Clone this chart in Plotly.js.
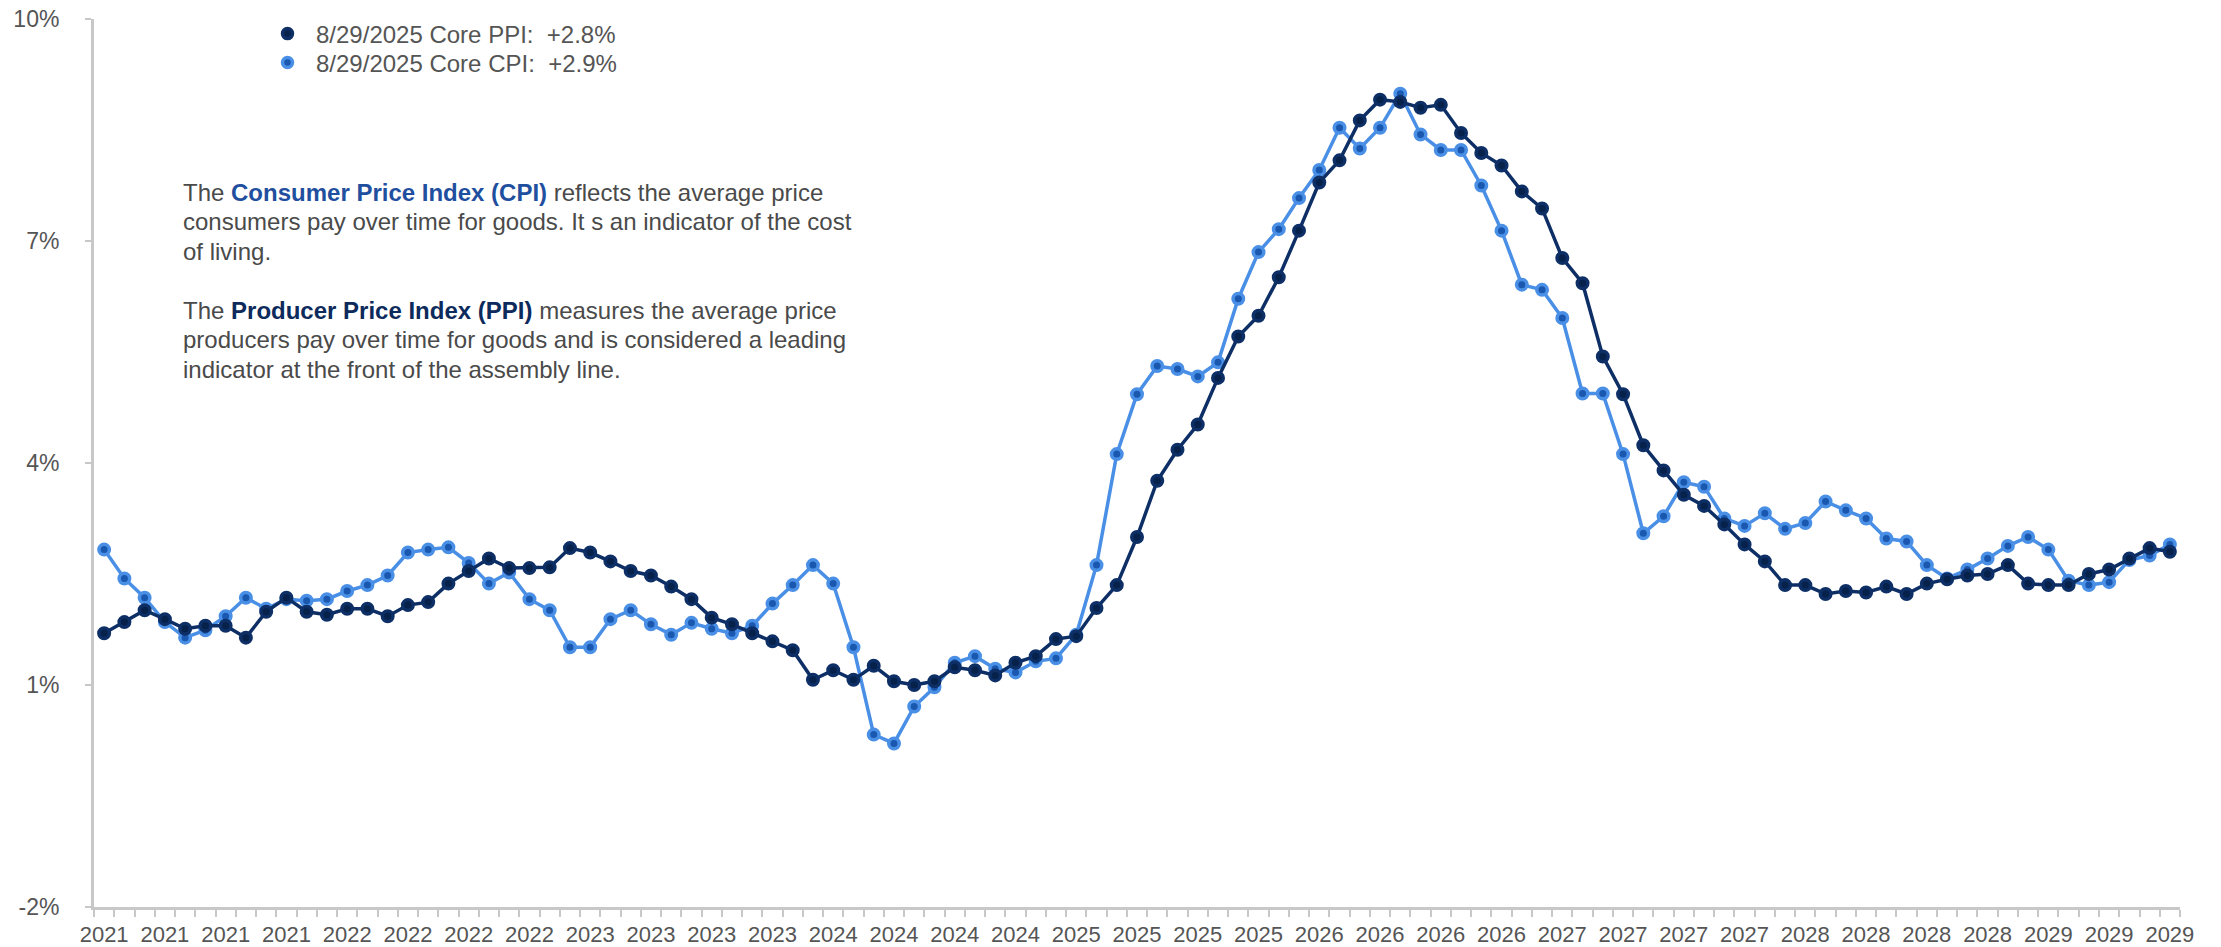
<!DOCTYPE html>
<html>
<head>
<meta charset="utf-8">
<script src="https://cdn.plot.ly/plotly-3.0.1.min.js"></script>
<style>
  html, body { margin: 0; padding: 0; background: #ffffff; }
  #chart { width: 2221px; height: 947px; }
</style>
</head>
<body>
<div id="chart"></div>
<script>
// Quarterly tick labels (one label every third monthly reading)
const tickLabels = [
  '2021','2021','2021','2021',
  '2022','2022','2022','2022',
  '2023','2023','2023','2023',
  '2024','2024','2024','2024',
  '2025','2025','2025','2025',
  '2026','2026','2026','2026',
  '2027','2027','2027','2027',
  '2028','2028','2028','2028',
  '2029','2029','2029'
];

// Value-axis ticks, percent
const yTickValues = [-2, 1, 4, 7, 10];

// Monthly year-over-year change, percent
const corePPI = [
  1.70, 1.85, 2.01, 1.89, 1.76, 1.80, 1.80, 1.64, 1.99, 2.18,
  1.99, 1.95, 2.03, 2.03, 1.93, 2.08, 2.12, 2.37, 2.54, 2.71,
  2.58, 2.58, 2.59, 2.85, 2.79, 2.67, 2.54, 2.48, 2.33, 2.16,
  1.91, 1.82, 1.70, 1.59, 1.47, 1.07, 1.20, 1.07, 1.26, 1.05,
  1.00, 1.05, 1.24, 1.20, 1.13, 1.30, 1.39, 1.62, 1.66, 2.04,
  2.35, 3.00, 3.76, 4.18, 4.52, 5.15, 5.71, 5.99, 6.51, 7.14,
  7.79, 8.09, 8.63, 8.91, 8.88, 8.80, 8.84, 8.46, 8.19, 8.02,
  7.67, 7.44, 6.77, 6.43, 5.44, 4.93, 4.24, 3.90, 3.57, 3.42,
  3.17, 2.90, 2.67, 2.35, 2.35, 2.23, 2.27, 2.25, 2.33, 2.23,
  2.37, 2.43, 2.48, 2.50, 2.62, 2.37, 2.35, 2.35, 2.50, 2.56,
  2.71, 2.85, 2.80
];

const coreCPI = [
  2.83, 2.44, 2.18, 1.85, 1.64, 1.74, 1.93, 2.18, 2.03, 2.16,
  2.14, 2.16, 2.27, 2.35, 2.48, 2.79, 2.83, 2.86, 2.65, 2.37,
  2.52, 2.16, 2.01, 1.51, 1.51, 1.89, 2.01, 1.82, 1.68, 1.84,
  1.76, 1.70, 1.80, 2.10, 2.35, 2.62, 2.37, 1.51, 0.33, 0.21,
  0.71, 0.97, 1.30, 1.39, 1.22, 1.17, 1.32, 1.36, 1.68, 2.62,
  4.12, 4.93, 5.31, 5.27, 5.17, 5.36, 6.22, 6.85, 7.16, 7.58,
  7.96, 8.53, 8.25, 8.53, 8.99, 8.44, 8.23, 8.23, 7.75, 7.14,
  6.41, 6.34, 5.96, 4.94, 4.94, 4.12, 3.05, 3.28, 3.74, 3.68,
  3.25, 3.15, 3.32, 3.11, 3.19, 3.48, 3.36, 3.25, 2.98, 2.94,
  2.62, 2.44, 2.56, 2.71, 2.88, 3.00, 2.83, 2.41, 2.35, 2.39,
  2.69, 2.75, 2.90
];

const asOfDate = '8/29/2025';

// Explanatory note, one entry per printed line ('' = blank line)
const noteLines = [
  'The <b><span style="color:#1f4f9e">Consumer Price Index (CPI)</span></b> reflects the average price',
  'consumers pay over time for goods. It s an indicator of the cost',
  'of living.',
  '',
  'The <b><span style="color:#0d2a5c">Producer Price Index (PPI)</span></b> measures the average price',
  'producers pay over time for goods and is considered a leading',
  'indicator at the front of the assembly line.'
];

// Colours and fonts
const ppiLine = '#0d2f66', ppiDot = '#06214a';
const cpiLine = '#4a8fe6', cpiDot = '#1a58b0';
const axisGrey = '#c8c8c8';
const textGrey = '#555555';
const fontFamily = '"Liberation Sans", Arial, Helvetica, sans-serif';

// Frame geometry
const W = 2221, H = 947;
const M = { l: 94, r: 41, t: 17, b: 40 };
const plotW = W - M.l - M.r, plotH = H - M.t - M.b;
const pxToPaperX = px => (px - M.l) / plotW;
const pxToPaperY = py => (H - M.b - py) / plotH;

const xIdx = corePPI.map((_, i) => i);
const tickPos = tickLabels.map((_, k) => k * 3);

function fmt(v) { return (v >= 0 ? '+' : '') + v.toFixed(1) + '%'; }
const nb = '\u00a0';

const traces = [
  {
    x: xIdx, y: coreCPI, type: 'scatter', mode: 'lines+markers',
    line: { color: cpiLine, width: 3.5 },
    marker: { size: 10.5, color: cpiDot, line: { color: cpiLine, width: 3.5 } },
    showlegend: false, hoverinfo: 'y'
  },
  {
    x: xIdx, y: corePPI, type: 'scatter', mode: 'lines+markers',
    line: { color: ppiLine, width: 3.5 },
    marker: { size: 10.5, color: ppiDot, line: { color: ppiLine, width: 3.5 } },
    showlegend: false, hoverinfo: 'y'
  },
  // legend entries (marker-only symbols), latest reading in the label
  {
    x: [null], y: [null], type: 'scatter', mode: 'markers', legend: 'legend',
    name: asOfDate + ' Core PPI:' + nb + nb + fmt(corePPI[corePPI.length - 1]),
    marker: { size: 10, color: ppiDot, line: { color: ppiLine, width: 3.5 } }
  },
  {
    x: [null], y: [null], type: 'scatter', mode: 'markers', legend: 'legend2',
    name: asOfDate + ' Core CPI:' + nb + nb + fmt(coreCPI[coreCPI.length - 1]),
    marker: { size: 10, color: cpiDot, line: { color: cpiLine, width: 3.5 } }
  }
];

const legendBase = {
  x: pxToPaperX(259), xanchor: 'left', yanchor: 'top',
  bgcolor: 'rgba(0,0,0,0)', borderwidth: 0,
  font: { family: fontFamily, size: 24, color: textGrey },
  itemwidth: 47
};

const noteTop = 175, noteStep = 29.6;
const noteAnnotations = noteLines
  .map((t, k) => ({ t, k }))
  .filter(o => o.t !== '')
  .map(o => ({
    xref: 'paper', yref: 'paper',
    x: pxToPaperX(181), xanchor: 'left',
    y: pxToPaperY(noteTop + o.k * noteStep), yanchor: 'top',
    text: o.t, showarrow: false, align: 'left',
    font: { family: fontFamily, size: 24, color: '#4a4a4a' }
  }));

const layout = {
  width: W, height: H,
  margin: { l: M.l, r: M.r, t: M.t, b: M.b, pad: 0 },
  paper_bgcolor: '#ffffff', plot_bgcolor: '#ffffff',
  font: { family: fontFamily, size: 22, color: textGrey },
  showlegend: true,
  legend: Object.assign({}, legendBase, { y: pxToPaperY(9.5) }),
  legend2: Object.assign({}, legendBase, { y: pxToPaperY(38.5) }),
  xaxis: {
    range: [-0.5, xIdx.length - 0.5],
    tickmode: 'array', tickvals: tickPos, ticktext: tickLabels,
    ticks: 'outside', ticklen: 6, tickcolor: 'rgba(0,0,0,0)', tickwidth: 2,
    minor: { tickmode: 'linear', tick0: -0.5, dtick: 1, ticks: 'outside', ticklen: 7, tickcolor: axisGrey, tickwidth: 2, showgrid: false },
    showline: true, linecolor: axisGrey, linewidth: 3,
    showgrid: false, zeroline: false, fixedrange: true,
    tickfont: { family: fontFamily, size: 22, color: textGrey },
    tickangle: 0
  },
  yaxis: {
    range: [-2, 10],
    tickmode: 'array', tickvals: yTickValues,
    ticktext: yTickValues.map(v => String(v) + '%'),
    ticks: 'outside', ticklen: 6, tickcolor: axisGrey, tickwidth: 2,
    showline: true, linecolor: axisGrey, linewidth: 3,
    showgrid: false, zeroline: false, fixedrange: true,
    ticklabelstandoff: 21,
    tickfont: { family: fontFamily, size: 23, color: textGrey }
  },
  annotations: noteAnnotations
};

Plotly.newPlot('chart', traces, layout, { displayModeBar: false, staticPlot: true });
</script>
</body>
</html>
